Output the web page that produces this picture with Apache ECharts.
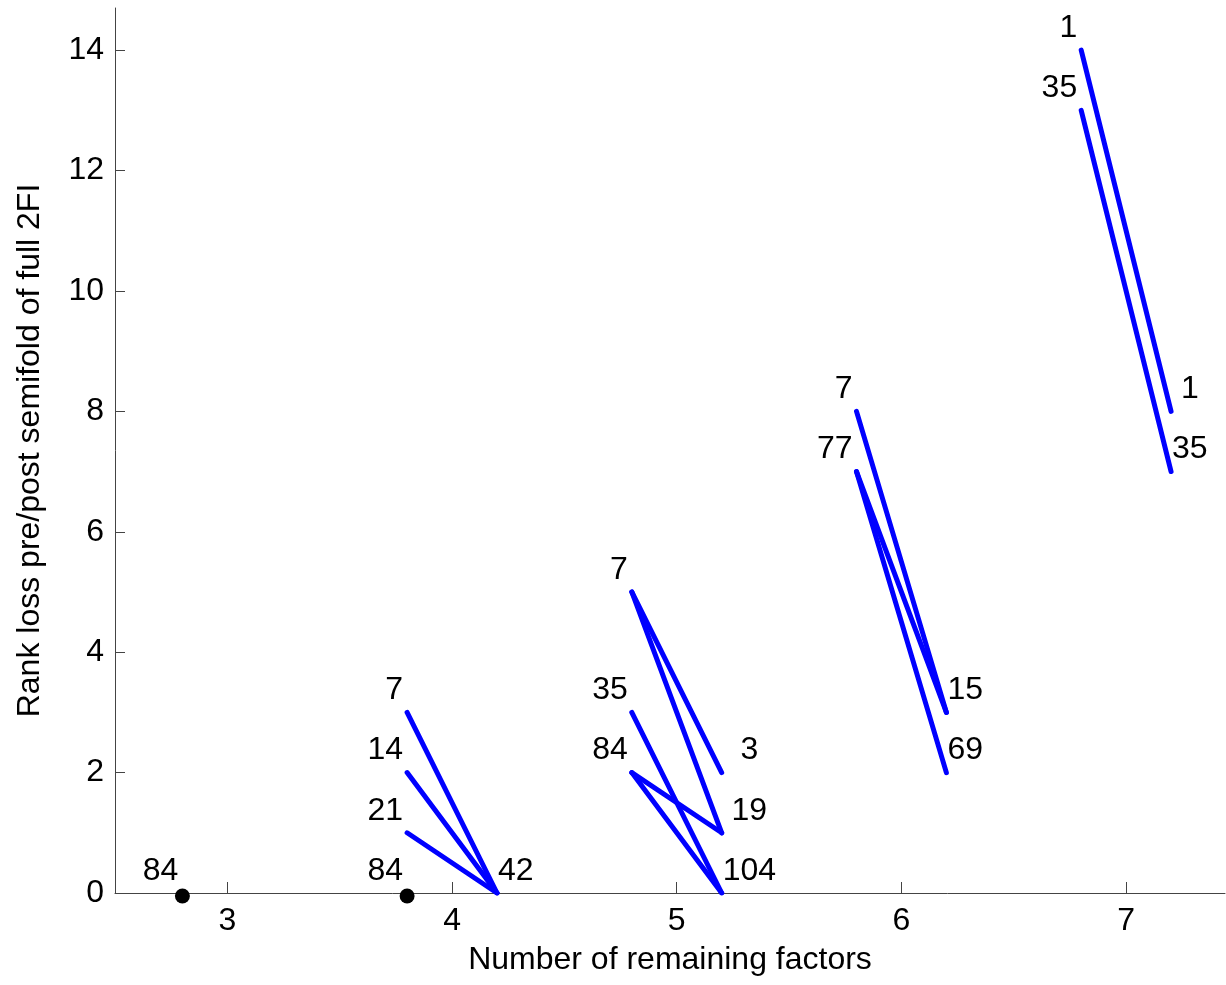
<!DOCTYPE html>
<html>
<head>
<meta charset="utf-8">
<script src="https://cdn.jsdelivr.net/npm/echarts@6/dist/echarts.min.js"></script>
<style>
html,body{margin:0;padding:0;background:#fff;}
#chart{width:1226px;height:985px;}
</style>
</head>
<body>
<div id="chart"></div>
<script>
// ---- data ----
const xTicks = [3, 4, 5, 6, 7];
const yTicks = [0, 2, 4, 6, 8, 10, 12, 14];
// each segment: [number of factors, rank loss pre, rank loss post]
const segments = [
  [4, 3, 0], [4, 2, 0], [4, 1, 0],
  [5, 5, 2], [5, 5, 1], [5, 3, 0], [5, 2, 1], [5, 2, 0],
  [6, 8, 3], [6, 7, 3], [6, 7, 2],
  [7, 14, 8], [7, 13, 7]
];
// single points (no change): [number of factors, rank loss]
const dots = [[3, 0], [4, 0]];
// labels at "pre" end: [factors, rank, text]
const preLabels = [
  [3, 0, '84'],
  [4, 3, '7'], [4, 2, '14'], [4, 1, '21'], [4, 0, '84'],
  [5, 5, '7'], [5, 3, '35'], [5, 2, '84'],
  [6, 8, '7'], [6, 7, '77'],
  [7, 14, '1'], [7, 13, '35']
];
// labels at "post" end: [factors, rank, text]
const postLabels = [
  [4, 0, '42'],
  [5, 2, '  3'], [5, 1, ' 19'], [5, 0, '104'],
  [6, 3, '15'], [6, 2, '69'],
  [7, 8, ' 1'], [7, 7, '35']
];
const shift = 0.2; // pre plotted at x-0.2, post at x+0.2

// ---- chart ----
const FONT = '"Liberation Sans", Arial, sans-serif';
const chart = echarts.init(document.getElementById('chart'), null, {renderer: 'canvas'});
const series = [];
segments.forEach(function (s) {
  series.push({
    type: 'line',
    data: [[s[0] - shift, s[1]], [s[0] + shift, s[2]]],
    symbol: 'none',
    silent: true,
    lineStyle: {color: '#0000ff', width: 5, cap: 'round', join: 'round', opacity: 1},
    z: 3
  });
});
series.push({
  type: 'scatter',
  data: dots.map(function (d) { return [d[0] - shift, d[1]]; }),
  symbol: 'circle',
  symbolSize: 15,
  symbolOffset: [0, 3],
  silent: true,
  itemStyle: {color: '#000000', opacity: 1},
  z: 4
});
function labelSeries(arr, sign, align, dx) {
  return {
    type: 'scatter',
    data: arr.map(function (d) { return {value: [d[0] + sign * shift, d[1]], name: d[2]}; }),
    symbolSize: 0,
    silent: true,
    z: 5,
    itemStyle: {opacity: 1},
    label: {
      show: true,
      position: 'inside',
      align: align,
      verticalAlign: 'middle',
      offset: [dx, -22],
      formatter: function (p) { return p.name; },
      color: '#000000',
      opacity: 1,
      fontFamily: FONT,
      fontSize: 32
    }
  };
}
series.push(labelSeries(preLabels, -1, 'right', -4));
series.push(labelSeries(postLabels, 1, 'left', 1));

chart.setOption({
  animation: false,
  backgroundColor: '#ffffff',
  grid: {left: 115, right: 1, top: 8, bottom: 92, containLabel: false},
  xAxis: {
    type: 'value',
    min: 2.5,
    max: 7.44,
    name: 'Number of remaining factors',
    nameLocation: 'middle',
    nameGap: 51,
    nameTextStyle: {fontFamily: FONT, fontSize: 32, color: '#000'},
    axisLine: {show: true, onZero: false, lineStyle: {color: '#444', width: 1}},
    axisTick: {show: true, inside: true, length: 11, customValues: xTicks, lineStyle: {color: '#444'}},
    axisLabel: {show: true, customValues: xTicks, margin: 12, fontFamily: FONT, fontSize: 32, color: '#000'},
    splitLine: {show: false}
  },
  yAxis: {
    type: 'value',
    min: 0,
    max: 14.7,
    name: 'Rank loss pre/post semifold of full 2FI',
    nameLocation: 'middle',
    nameRotate: 90,
    nameGap: 69,
    nameTextStyle: {fontFamily: FONT, fontSize: 32, color: '#000'},
    axisLine: {show: true, onZero: false, lineStyle: {color: '#444', width: 1}},
    axisTick: {show: true, inside: true, length: 10, customValues: yTicks, lineStyle: {color: '#444'}},
    axisLabel: {show: true, customValues: yTicks, margin: 11, fontFamily: FONT, fontSize: 32, color: '#000'},
    splitLine: {show: false}
  },
  series: series
});
</script>
</body>
</html>
